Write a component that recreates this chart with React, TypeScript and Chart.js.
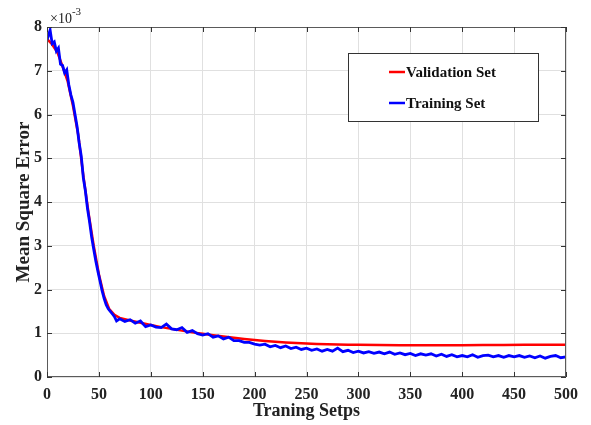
import React, { useEffect, useRef } from 'react';
import { Chart, registerables } from 'chart.js';

Chart.register(...registerables);

// values are in units of 1e-3 (the axis shows a x10^-3 multiplier)
const validationSteps = [
    0, 5, 10, 15, 20, 25, 30, 35, 40, 45, 50, 55, 60, 65, 70, 80, 90, 100,
    110, 120, 130, 140, 150, 160, 170, 180, 190, 200, 210, 220, 230, 240, 250,
    260, 270, 280, 290, 300, 320, 340, 360, 380, 400, 420, 440, 460, 480, 500
];
const validationMse = [
    7.73, 7.6, 7.42, 7.1, 6.75, 6.2, 5.55, 4.6, 3.75, 3.0, 2.35, 1.85, 1.55, 1.42, 1.35, 1.29, 1.24, 1.19,
    1.14, 1.1, 1.06, 1.02, 0.99, 0.955, 0.925, 0.895, 0.87, 0.845, 0.825, 0.805, 0.79, 0.775, 0.765,
    0.755, 0.748, 0.742, 0.738, 0.735, 0.73, 0.728, 0.727, 0.727, 0.728, 0.73, 0.733, 0.736, 0.738, 0.74
];

const trainingSteps = [
    0, 1, 3, 5, 7, 9, 11, 13, 15, 17, 19, 21, 23, 25, 27, 29, 31, 33, 35, 37, 39,
    41, 43, 45, 47, 49, 51, 53, 55, 57, 59, 61, 63, 65, 67,
    70, 75, 80, 85, 90, 95, 100, 105, 110, 115, 120, 125, 130, 135, 140, 145,
    150, 155, 160, 165, 170, 175, 180, 185, 190, 195, 200, 205, 210, 215, 220,
    225, 230, 235, 240, 245, 250, 255, 260, 265, 270, 275, 280, 285, 290, 295,
    300, 305, 310, 315, 320, 325, 330, 335, 340, 345, 350, 355, 360, 365, 370,
    375, 380, 385, 390, 395, 400, 405, 410, 415, 420, 425, 430, 435, 440, 445,
    450, 455, 460, 465, 470, 475, 480, 485, 490, 495, 500
];
const trainingMse = [
    7.7, 7.78, 7.93, 7.62, 7.66, 7.45, 7.52, 7.15, 7.12, 6.95, 7.02, 6.68, 6.45, 6.28, 6.0, 5.72, 5.35, 5.05, 4.55, 4.25, 3.85,
    3.55, 3.2, 2.92, 2.65, 2.42, 2.2, 1.98, 1.8, 1.65, 1.56, 1.5, 1.44, 1.38, 1.28,
    1.33, 1.27, 1.31, 1.23, 1.28, 1.15, 1.19, 1.14, 1.13, 1.21, 1.1, 1.08, 1.13, 1.02, 1.06, 0.99,
    0.96, 0.99, 0.91, 0.94, 0.87, 0.91, 0.83, 0.83, 0.79, 0.79, 0.75, 0.73, 0.75, 0.69, 0.72,
    0.67, 0.71, 0.65, 0.68, 0.63, 0.66, 0.61, 0.64, 0.59, 0.63, 0.59, 0.66, 0.58, 0.61, 0.56,
    0.59, 0.55, 0.58, 0.54, 0.57, 0.53, 0.57, 0.52, 0.55, 0.51, 0.54, 0.49, 0.53, 0.5, 0.53,
    0.48, 0.52, 0.47, 0.51, 0.46, 0.49, 0.46, 0.51, 0.45, 0.49, 0.5, 0.46, 0.49, 0.45, 0.49,
    0.46, 0.49, 0.45, 0.48, 0.44, 0.48, 0.43, 0.47, 0.49, 0.44, 0.46
];

const xTicks = [0, 50, 100, 150, 200, 250, 300, 350, 400, 450, 500];
const yTicks = [0, 1, 2, 3, 4, 5, 6, 7, 8];

const legendItems = ['Validation Set', 'Training Set'];
const seriesColors = ['#ff0000', '#0000ff'];

const SERIF = '"Liberation Serif", "Times New Roman", serif';

// box, inward ticks, exponent label and the inset legend (MATLAB look)
const matlabFrame = {
    id: 'matlabFrame',
    afterDraw(chart: Chart) {
        const { ctx, chartArea: a } = chart;
        const xs = chart.scales.x;
        const ys = chart.scales.y;
        ctx.save();

        ctx.strokeStyle = '#5a5a5a';
        ctx.lineWidth = 1;
        ctx.strokeRect(a.left + 0.5, a.top + 0.5, a.right - a.left - 1, a.bottom - a.top - 1);

        ctx.strokeStyle = '#333';
        ctx.beginPath();
        xTicks.forEach(v => {
            const px = Math.round(xs.getPixelForValue(v)) + 0.5;
            ctx.moveTo(px, a.bottom);
            ctx.lineTo(px, a.bottom - 5);
            ctx.moveTo(px, a.top);
            ctx.lineTo(px, a.top + 5);
        });
        yTicks.forEach(v => {
            const py = Math.round(ys.getPixelForValue(v)) + 0.5;
            ctx.moveTo(a.left, py);
            ctx.lineTo(a.left + 5, py);
            ctx.moveTo(a.right, py);
            ctx.lineTo(a.right - 5, py);
        });
        ctx.stroke();

        // x10^-3 multiplier
        ctx.fillStyle = '#222';
        ctx.textBaseline = 'alphabetic';
        ctx.font = `14px ${SERIF}`;
        ctx.fillText('\u00d710', a.left + 3, a.top - 4);
        const w = ctx.measureText('\u00d710').width;
        ctx.font = `11px ${SERIF}`;
        ctx.fillText('-3', a.left + 3 + w, a.top - 12);

        // legend
        const bx = a.right - 218;
        const by = a.top + 26;
        const bw = 190;
        const bh = 68;
        ctx.fillStyle = '#fff';
        ctx.fillRect(bx, by, bw, bh);
        ctx.strokeStyle = '#333';
        ctx.strokeRect(bx + 0.5, by + 0.5, bw, bh);
        ctx.font = `bold 15px ${SERIF}`;
        ctx.textBaseline = 'middle';
        legendItems.forEach((label, i) => {
            const ly = by + 19 + i * 31;
            ctx.strokeStyle = seriesColors[i];
            ctx.lineWidth = 2.5;
            ctx.beginPath();
            ctx.moveTo(bx + 41, ly);
            ctx.lineTo(bx + 57, ly);
            ctx.stroke();
            ctx.fillStyle = '#111';
            ctx.fillText(label, bx + 58, ly + 1);
        });
        ctx.restore();
    }
};

export default function App() {
    const canvasRef = useRef<HTMLCanvasElement>(null);

    useEffect(() => {
        document.body.style.margin = '0';
        const ctx = canvasRef.current?.getContext('2d');
        if (!ctx) return;

        const chart = new Chart(ctx, {
            type: 'line',
            data: {
                datasets: [
                    {
                        label: legendItems[0],
                        data: validationSteps.map((s, i) => ({ x: s, y: validationMse[i] })),
                        borderColor: seriesColors[0],
                        borderWidth: 2.5,
                        pointRadius: 0,
                        tension: 0,
                        order: 1
                    },
                    {
                        label: legendItems[1],
                        data: trainingSteps.map((s, i) => ({ x: s, y: trainingMse[i] })),
                        borderColor: seriesColors[1],
                        borderWidth: 2.8,
                        pointRadius: 0,
                        tension: 0,
                        order: 0
                    }
                ]
            },
            options: {
                responsive: false,
                animation: false,
                layout: { padding: { top: 27, right: 25, left: 0, bottom: 0 } },
                plugins: {
                    legend: { display: false },
                    tooltip: { enabled: false }
                },
                scales: {
                    x: {
                        type: 'linear',
                        min: 0,
                        max: 500,
                        afterBuildTicks: s => { s.ticks = xTicks.map(v => ({ value: v })); },
                        afterFit: s => { s.height = 48; },
                        grid: { color: '#e0e0e0', drawTicks: false },
                        border: { display: false },
                        ticks: {
                            padding: 8,
                            color: '#222',
                            font: { family: SERIF, size: 16, weight: 'bold' }
                        },
                        title: {
                            display: true,
                            text: 'Traning Setps',
                            color: '#222',
                            padding: { top: 0, bottom: 3 },
                            font: { family: SERIF, size: 18, weight: 'bold' }
                        }
                    },
                    y: {
                        min: 0,
                        max: 8,
                        afterBuildTicks: s => { s.ticks = yTicks.map(v => ({ value: v })); },
                        afterFit: s => { s.width = 47; },
                        grid: { color: '#e0e0e0', drawTicks: false },
                        border: { display: false },
                        ticks: {
                            padding: 5,
                            color: '#222',
                            font: { family: SERIF, size: 16, weight: 'bold' }
                        },
                        title: {
                            display: true,
                            text: 'Mean Square Error',
                            color: '#222',
                            padding: { top: 13, bottom: 0 },
                            font: { family: SERIF, size: 19, weight: 'bold' }
                        }
                    }
                }
            },
            plugins: [matlabFrame]
        });

        return () => chart.destroy();
    }, []);

    return (
        <div style={{ width: 591, height: 425, background: '#fff' }}>
            <canvas ref={canvasRef} width={591} height={425} />
        </div>
    );
}
